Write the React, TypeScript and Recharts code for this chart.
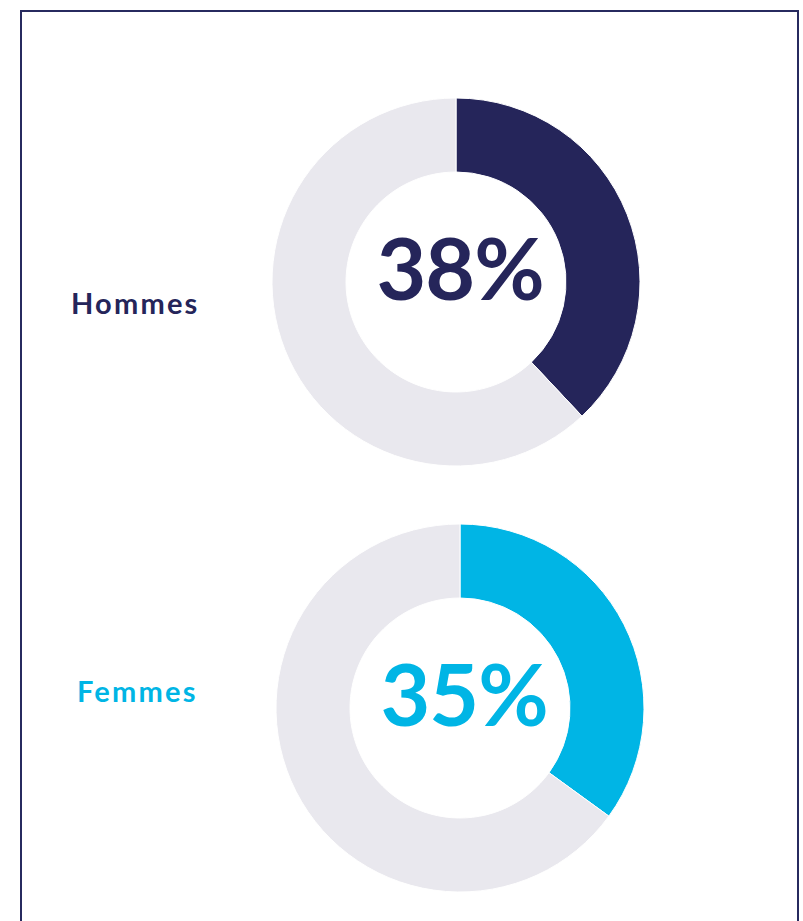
import { PieChart, Pie, Cell } from 'recharts'

const groups = ['Hommes', 'Femmes']
const shares = [38, 35]
const colors = ['#25255a', '#00b5e5']
const restColor = '#e9e8ee'

const FONT = 'Lato, "Noto Sans", sans-serif'

interface DonutProps {
  label: string
  value: number
  color: string
  cx: number
  cy: number
  labelX: number
  labelY: number
}

function Donut({ label, value, color, cx, cy, labelX, labelY }: DonutProps) {
  const slices = [
    { name: label, value },
    { name: 'reste', value: 100 - value },
  ]
  const size = 400
  return (
    <>
      <div style={{ position: 'absolute', left: cx - size / 2, top: cy - size / 2 }}>
        <PieChart width={size} height={size} margin={{ top: 0, right: 0, bottom: 0, left: 0 }}>
          <Pie
            data={slices}
            dataKey="value"
            cx={size / 2}
            cy={size / 2}
            innerRadius={110}
            outerRadius={184}
            startAngle={90}
            endAngle={-270}
            stroke="#ffffff"
            strokeWidth={1}
            isAnimationActive={false}
          >
            <Cell fill={color} />
            <Cell fill={restColor} />
          </Pie>
        </PieChart>
      </div>
      <div
        style={{
          position: 'absolute',
          left: cx - 150 + 4,
          top: cy - 15 - 60,
          width: 300,
          height: 120,
          display: 'flex',
          alignItems: 'center',
          justifyContent: 'center',
          fontFamily: FONT,
          fontWeight: 700,
          fontSize: 86,
          letterSpacing: -1,
          color,
          lineHeight: 1,
        }}
      >
        {value}%
      </div>
      <div
        style={{
          position: 'absolute',
          left: labelX,
          top: labelY - 20,
          height: 40,
          display: 'flex',
          alignItems: 'center',
          fontFamily: FONT,
          fontWeight: 700,
          fontSize: 29,
          letterSpacing: 2.2,
          color,
        }}
      >
        {label}
      </div>
    </>
  )
}

export default function App() {
  return (
    <div style={{ position: 'absolute', left: 0, top: 0, width: 803, height: 921, overflow: 'hidden', background: '#fff' }}>
      <div
        style={{
          position: 'absolute',
          left: 20,
          top: 10,
          width: 775,
          height: 940,
          border: '2px solid #272a5f',
        }}
      />
      <Donut label={groups[0]} value={shares[0]} color={colors[0]} cx={456} cy={282} labelX={71} labelY={302} />
      <Donut label={groups[1]} value={shares[1]} color={colors[1]} cx={460} cy={708} labelX={77} labelY={690} />
    </div>
  )
}
